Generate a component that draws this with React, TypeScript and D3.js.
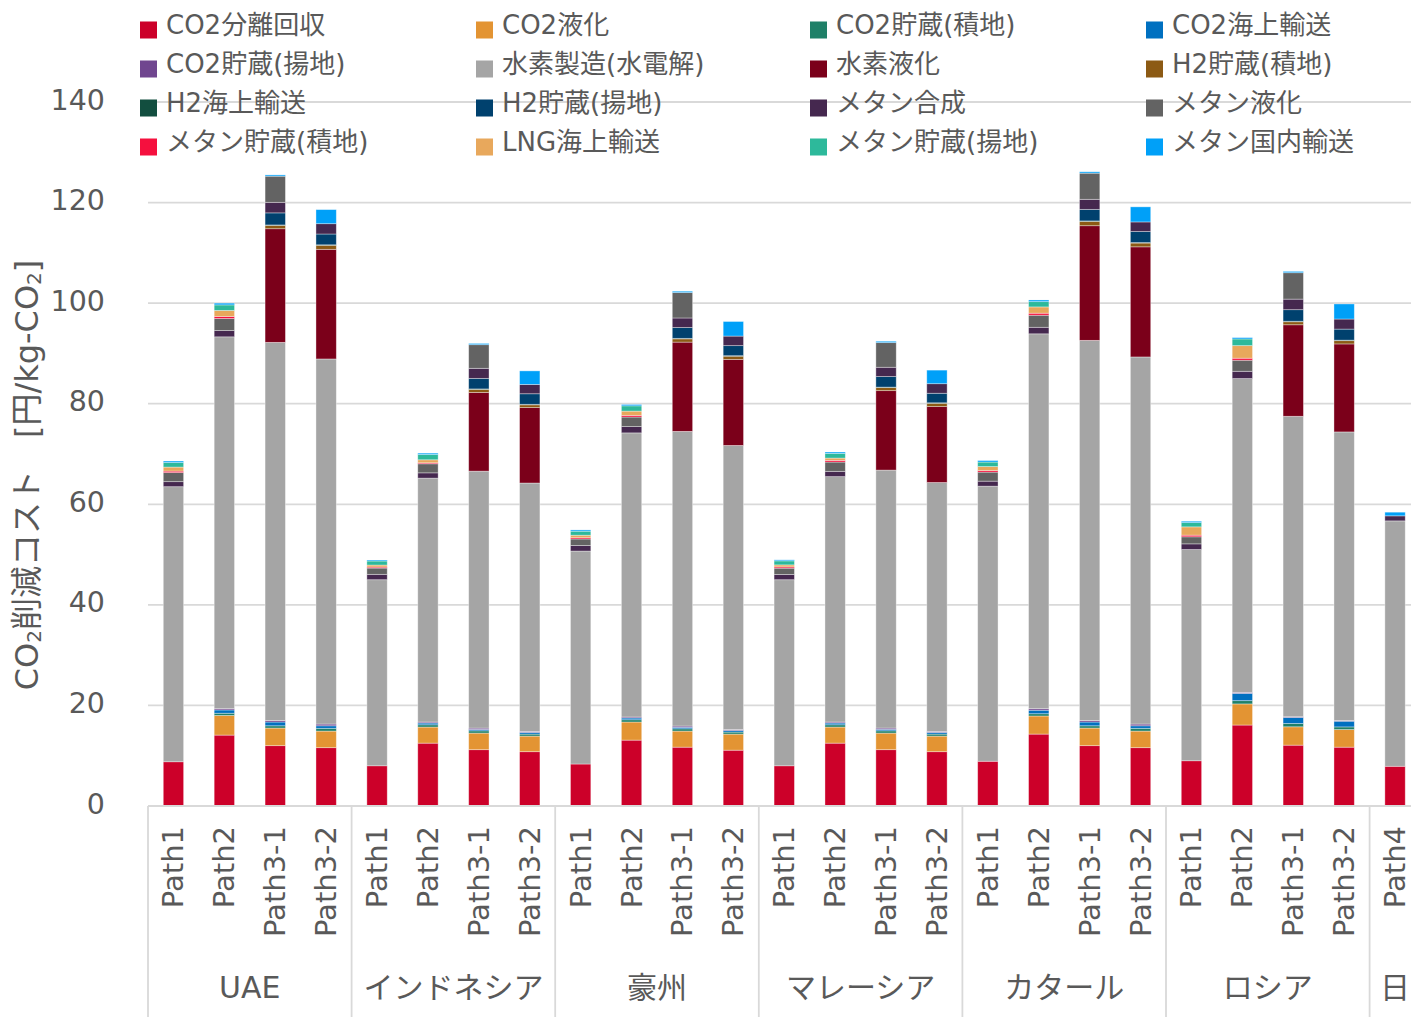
import React from 'react';
import * as d3 from 'd3';

// ---------- DATA ----------
const countries = ['UAE', 'インドネシア', '豪州', 'マレーシア', 'カタール', 'ロシア', '日本'];
// visible lines of each category label (the last one is wrapped and cut by the frame)
const countryLines = [['UAE'], ['インドネシア'], ['豪州'], ['マレーシア'], ['カタール'], ['ロシア'], ['日']];
const groupSizes = [4, 4, 4, 4, 4, 4, 1];
const pathLabels = [
  'Path1', 'Path2', 'Path3-1', 'Path3-2',
  'Path1', 'Path2', 'Path3-1', 'Path3-2',
  'Path1', 'Path2', 'Path3-1', 'Path3-2',
  'Path1', 'Path2', 'Path3-1', 'Path3-2',
  'Path1', 'Path2', 'Path3-1', 'Path3-2',
  'Path1', 'Path2', 'Path3-1', 'Path3-2',
  'Path4',
];
const yTicks = [0, 20, 40, 60, 80, 100, 120, 140];

const seriesNames = [
  'CO2分離回収', 'CO2液化', 'CO2貯蔵(積地)', 'CO2海上輸送',
  'CO2貯蔵(揚地)', '水素製造(水電解)', '水素液化', 'H2貯蔵(積地)',
  'H2海上輸送', 'H2貯蔵(揚地)', 'メタン合成', 'メタン液化',
  'メタン貯蔵(積地)', 'LNG海上輸送', 'メタン貯蔵(揚地)', 'メタン国内輸送',
];
const seriesColors = [
  '#CC0029', '#E39433', '#1F8068', '#0070C0',
  '#70468F', '#A5A5A5', '#7B001A', '#8C5A14',
  '#124E3F', '#00416E', '#45284F', '#636363',
  '#F5103E', '#E8A85C', '#2DB99B', '#00A0F8',
];

const co2Capture = [8.8, 14.1, 12.0, 11.6, 8.0, 12.5, 11.2, 10.8, 8.35, 13.1, 11.7, 11.1, 8.0, 12.5, 11.2, 10.8, 8.9, 14.3, 12.0, 11.6, 9.0, 16.1, 12.1, 11.7, 7.9];
const co2Liquefy = [0, 3.9, 3.5, 3.3, 0, 3.2, 3.3, 3.1, 0, 3.6, 3.2, 3.2, 0, 3.2, 3.3, 3.1, 0, 3.6, 3.5, 3.3, 0, 4.2, 3.65, 3.5, 0];
const co2StoreLoad = [0, 0.45, 0.45, 0.55, 0, 0.45, 0.45, 0.4, 0, 0.45, 0.45, 0.4, 0, 0.45, 0.45, 0.4, 0, 0.45, 0.45, 0.55, 0, 0.65, 0.65, 0.53, 0];
const co2Shipping = [0, 0.65, 0.75, 0.5, 0, 0.35, 0.27, 0.33, 0, 0.35, 0.3, 0.3, 0, 0.35, 0.3, 0.33, 0, 0.7, 0.75, 0.5, 0, 1.45, 1.2, 1.13, 0];
const co2StoreUnload = [0, 0.25, 0.3, 0.35, 0, 0.2, 0.27, 0.2, 0, 0.2, 0.25, 0.2, 0, 0.2, 0.25, 0.2, 0, 0.3, 0.3, 0.35, 0, 0.2, 0.15, 0.13, 0];
const h2Production = [54.7, 73.95, 75.2, 72.6, 37.0, 48.5, 51.1, 49.4, 42.35, 56.5, 58.6, 56.5, 37.0, 48.8, 51.3, 49.5, 54.7, 74.55, 75.6, 73.0, 42.0, 62.4, 59.75, 57.4, 48.8];
const h2Liquefy = [0, 0, 22.6, 21.8, 0, 0, 15.65, 15.0, 0, 0, 17.75, 17.1, 0, 0, 15.8, 15.1, 0, 0, 22.8, 21.9, 0, 0, 18.2, 17.5, 0];
const h2StoreLoad = [0, 0, 0.65, 0.8, 0, 0, 0.6, 0.55, 0, 0, 0.65, 0.65, 0, 0, 0.6, 0.65, 0, 0, 0.85, 0.75, 0, 0, 0.6, 0.65, 0];
const h2Shipping = [0, 0, 0.1, 0.1, 0, 0, 0.1, 0.1, 0, 0, 0.1, 0.1, 0, 0, 0.1, 0.1, 0, 0, 0.1, 0.1, 0, 0, 0.1, 0.1, 0];
const h2StoreUnload = [0, 0, 2.4, 2.15, 0, 0, 2.1, 2.1, 0, 0, 2.15, 2.0, 0, 0, 2.1, 1.9, 0, 0, 2.3, 2.2, 0, 0, 2.3, 2.2, 0];
const methSynth = [1.0, 1.25, 2.1, 2.05, 1.07, 1.05, 2.0, 1.85, 1.1, 1.25, 1.9, 1.9, 1.05, 1.05, 1.85, 1.9, 1.0, 1.3, 2.0, 1.9, 1.13, 1.45, 2.1, 2.0, 1.0];
const methLiquefy = [1.8, 2.4, 5.2, 0, 1.25, 1.8, 4.7, 0, 1.3, 1.9, 5.05, 0, 1.25, 1.85, 4.9, 0, 1.8, 2.4, 5.2, 0, 1.4, 2.2, 5.25, 0, 0];
const methStoreLoad = [0.3, 0.4, 0, 0, 0.2, 0.2, 0, 0, 0.25, 0.33, 0, 0, 0.25, 0.33, 0, 0, 0.3, 0.4, 0, 0, 0.33, 0.4, 0, 0, 0];
const lngShipping = [0.8, 1.2, 0, 0, 0.4, 0.6, 0, 0, 0.5, 0.85, 0, 0, 0.4, 0.46, 0, 0, 0.8, 1.25, 0, 0, 1.65, 2.5, 0, 0, 0];
const methStoreUnload = [0.9, 1.1, 0, 0, 0.8, 1.05, 0, 0, 0.8, 1.05, 0, 0, 0.8, 0.93, 0, 0, 0.9, 1.05, 0, 0, 0.85, 1.33, 0, 0, 0];
const methDomestic = [0.3, 0.35, 0.25, 2.8, 0.2, 0.27, 0.25, 2.7, 0.25, 0.27, 0.27, 2.9, 0.2, 0.27, 0.27, 2.7, 0.3, 0.33, 0.27, 3.0, 0.27, 0.27, 0.27, 3.0, 0.73];

const seriesValues = [
  co2Capture, co2Liquefy, co2StoreLoad, co2Shipping,
  co2StoreUnload, h2Production, h2Liquefy, h2StoreLoad,
  h2Shipping, h2StoreUnload, methSynth, methLiquefy,
  methStoreLoad, lngShipping, methStoreUnload, methDomestic,
];

// ---------- LAYOUT ----------
const W = 1411;
const H = 1017;
const FONT = "'DejaVu Sans','Noto Sans CJK JP',sans-serif";
const TEXT = '#595959';
const GRID = '#D9D9D9';

const plotLeft = 148;
const plotRight = 1420.5;
const plotTop = 102;
const plotBottom = 806;

export default function App() {
  const idx = pathLabels.map((_, i) => i);
  const x = d3.scaleBand<number>().domain(idx).range([plotLeft, plotRight]).paddingInner(0.6).paddingOuter(0.3);
  const y = d3.scaleLinear().domain([0, 140]).range([plotBottom, plotTop]);

  const rows = idx.map((i) => {
    const r: Record<string, number> = { i };
    seriesNames.forEach((_, s) => { r['s' + s] = seriesValues[s][i]; });
    return r;
  });
  const keys = seriesNames.map((_, s) => 's' + s);
  const stacked = d3.stack<any>().keys(keys)(rows);

  const step = x.step();
  const groupEdges: number[] = [plotLeft];
  let acc = 0;
  groupSizes.forEach((g) => { acc += g; groupEdges.push(plotLeft + acc * step); });

  const legendColX = [140, 476, 810, 1146];
  const legendRowY = [30, 69, 108, 147];

  return (
    <svg width={W} height={H} style={{ position: 'absolute', left: 0, top: 0, background: '#fff' }} fontFamily={FONT}>
      <rect x={0} y={0} width={W} height={H} fill="#fff" />
      {/* gridlines */}
      {yTicks.map((t) => (
        <line key={t} x1={plotLeft} x2={W} y1={y(t)} y2={y(t)} stroke={GRID} strokeWidth={1.8} />
      ))}
      {/* y tick labels */}
      {yTicks.map((t) => (
        <text key={'yl' + t} x={105} y={y(t) - 2} textAnchor="end" dominantBaseline="central" fontSize={28.5} fill={TEXT}>{t}</text>
      ))}
      {/* y title */}
      <text transform={`translate(27,475) rotate(-90)`} textAnchor="middle" dominantBaseline="central" fontSize={32} fill={TEXT}>
        CO<tspan fontSize={20} dy={7}>2</tspan><tspan dy={-7}>削減コスト　[円/kg-CO</tspan><tspan fontSize={20} dy={7}>2</tspan><tspan dy={-7}>]</tspan>
      </text>

      {/* bars */}
      {stacked.map((layer, s) => (
        <g key={layer.key} fill={seriesColors[s]}>
          {layer.map((d, i) => {
            const h = y(d[0]) - y(d[1]);
            if (h <= 0) return null;
            return (
              <rect key={i} x={x(i)} width={x.bandwidth()} y={y(d[1])} height={h}
                stroke="#ffffff" strokeOpacity={0.45} strokeWidth={0.8} />
            );
          })}
        </g>
      ))}

      {/* x axis */}
      <line x1={plotLeft} x2={W} y1={plotBottom} y2={plotBottom} stroke={GRID} strokeWidth={1.8} />
      {groupEdges.map((gx, k) => (
        <line key={'ge' + k} x1={gx} x2={gx} y1={plotBottom} y2={H} stroke={GRID} strokeWidth={1.8} />
      ))}
      {pathLabels.map((p, i) => (
        <text key={'pl' + i} transform={`translate(${(x(i) as number) + x.bandwidth() / 2},826) rotate(-90)`}
          textAnchor="end" dominantBaseline="central" fontSize={29} fill={TEXT}>{p}</text>
      ))}
      {countryLines.map((lines, k) => {
        const cx = (groupEdges[k] + groupEdges[k + 1]) / 2;
        return (
          <text key={'c' + k} x={cx} y={987} textAnchor="middle" dominantBaseline="central" fontSize={30} fill={TEXT}>
            {lines.map((ln, j) => (
              <tspan key={j} x={cx} dy={j === 0 ? 0 : 38}>{ln}</tspan>
            ))}
          </text>
        );
      })}

      {/* legend */}
      {seriesNames.map((n, s) => {
        const col = s % 4;
        const row = Math.floor(s / 4);
        const lx = legendColX[col];
        const ly = legendRowY[row];
        return (
          <g key={'lg' + s}>
            <rect x={lx} y={ly - 8.5} width={17} height={17} fill={seriesColors[s]} />
            <text x={lx + 26} y={ly - 5} dominantBaseline="central" fontSize={26} fill={TEXT}>{n}</text>
          </g>
        );
      })}
    </svg>
  );
}
